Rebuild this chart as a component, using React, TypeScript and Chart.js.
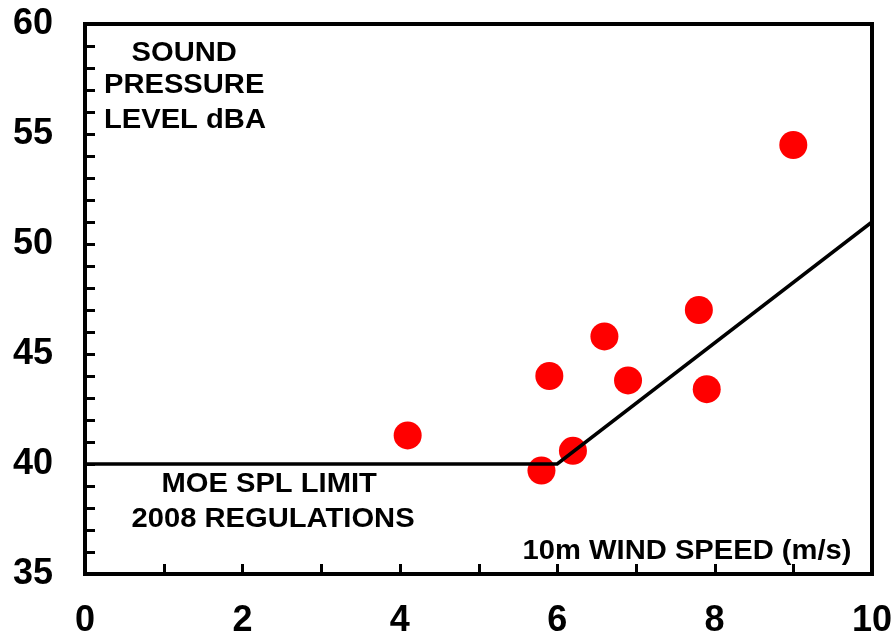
import React, { useEffect, useRef } from "react";
import { Chart, registerables } from "chart.js";

Chart.register(...registerables);

// Measured sound pressure levels (dBA) vs 10 m wind speed (m/s)
const windSpeed = [4.1, 5.8, 5.9, 6.2, 6.6, 6.9, 7.8, 7.9, 9.0];
const soundLevel = [41.3, 39.7, 44.0, 40.6, 45.8, 43.8, 47.0, 43.4, 54.5];

// MOE SPL limit line (2008 regulations)
const limitWind = [0, 6, 10];
const limitLevel = [40, 40, 51];

// Axis ranges
const xMin = 0;
const xMax = 10;
const yMin = 35;
const yMax = 60;

// Text labels inside the plot (anchored in data coordinates)
const labelTexts = [
  "SOUND",
  "PRESSURE",
  "LEVEL dBA",
  "MOE SPL LIMIT",
  "2008 REGULATIONS",
  "10m WIND SPEED (m/s)",
];
const labelX = [1.26, 1.26, 1.27, 2.34, 2.39, 7.65];
const labelY = [58.68, 57.23, 55.64, 39.09, 37.53, 36.05];

const FONT = "'Liberation Sans', Arial, Helvetica, sans-serif";

const framePlugin = {
  id: "frameAndLabels",
  afterDraw(chart: any) {
    const { ctx, chartArea, scales } = chart;
    const xs = scales.x;
    const ys = scales.y;
    ctx.save();
    // minor/major tick marks pointing inward
    ctx.strokeStyle = "#000";
    ctx.lineWidth = 3;
    ctx.beginPath();
    for (let v = xMin + 1; v < xMax; v += 1) {
      const px = Math.round(xs.getPixelForValue(v)) + 0.5;
      ctx.moveTo(px, chartArea.bottom);
      ctx.lineTo(px, chartArea.bottom - 10);
    }
    for (let v = yMin + 1; v < yMax; v += 1) {
      const py = Math.round(ys.getPixelForValue(v)) + 0.5;
      ctx.moveTo(chartArea.left, py);
      ctx.lineTo(chartArea.left + 10, py);
    }
    ctx.stroke();
    // frame
    ctx.lineWidth = 4;
    ctx.lineJoin = "miter";
    ctx.strokeRect(
      chartArea.left,
      chartArea.top,
      chartArea.right - chartArea.left,
      chartArea.bottom - chartArea.top
    );
    // labels
    ctx.fillStyle = "#000";
    ctx.font = `bold 27px ${FONT}`;
    ctx.textAlign = "center";
    ctx.textBaseline = "middle";
    labelTexts.forEach((t, i) => {
      const px = xs.getPixelForValue(labelX[i]);
      const py = ys.getPixelForValue(labelY[i]);
      ctx.save();
      ctx.translate(px, py);
      ctx.scale(1.08, 1);
      ctx.fillText(t, 0, 1);
      ctx.restore();
    });
    ctx.restore();
  },
};

export default function App() {
  const canvasRef = useRef<HTMLCanvasElement | null>(null);

  useEffect(() => {
    const canvas = canvasRef.current;
    if (!canvas) return;
    const chart = new Chart(canvas, {
      type: "scatter",
      data: {
        datasets: [
          {
            type: "line",
            label: "MOE SPL limit",
            data: limitWind.map((x, i) => ({ x, y: limitLevel[i] })),
            borderColor: "#000",
            borderWidth: 3.5,
            pointRadius: 0,
            fill: false,
            tension: 0,
          },
          {
            type: "scatter",
            label: "Measured SPL",
            data: windSpeed.map((x, i) => ({ x, y: soundLevel[i] })),
            backgroundColor: "#ff0000",
            borderWidth: 0,
            pointRadius: 14,
            pointHoverRadius: 14,
          },
        ],
      },
      options: {
        responsive: false,
        animation: false,
        layout: { padding: { top: 24, right: 22, left: 0, bottom: 0 } },
        plugins: {
          legend: { display: false },
          tooltip: { enabled: false },
        },
        scales: {
          x: {
            type: "linear",
            min: xMin,
            max: xMax,
            grid: { display: false, drawTicks: false },
            border: { display: false },
            ticks: {
              stepSize: 2,
              padding: 25,
              color: "#000",
              font: { family: FONT, size: 36, weight: "bold" },
              maxRotation: 0,
            },
            afterFit(scale: any) {
              scale.height = 61;
              scale.paddingLeft = 0;
              scale.paddingRight = 0;
              scale.paddingTop = 0;
              scale.paddingBottom = 0;
            },
          },
          y: {
            type: "linear",
            min: yMin,
            max: yMax,
            grid: { display: false, drawTicks: false },
            border: { display: false },
            ticks: {
              stepSize: 5,
              padding: 32,
              color: "#000",
              font: { family: FONT, size: 36, weight: "bold" },
            },
            afterFit(scale: any) {
              scale.width = 85;
              scale.paddingLeft = 0;
              scale.paddingRight = 0;
              scale.paddingTop = 0;
              scale.paddingBottom = 0;
            },
          },
        },
      },
      plugins: [framePlugin],
    });
    return () => chart.destroy();
  }, []);

  return (
    <div style={{ position: "absolute", left: 0, top: 0, width: 894, height: 635, background: "#fff" }}>
      <canvas ref={canvasRef} width={894} height={635} style={{ display: "block" }} />
    </div>
  );
}
